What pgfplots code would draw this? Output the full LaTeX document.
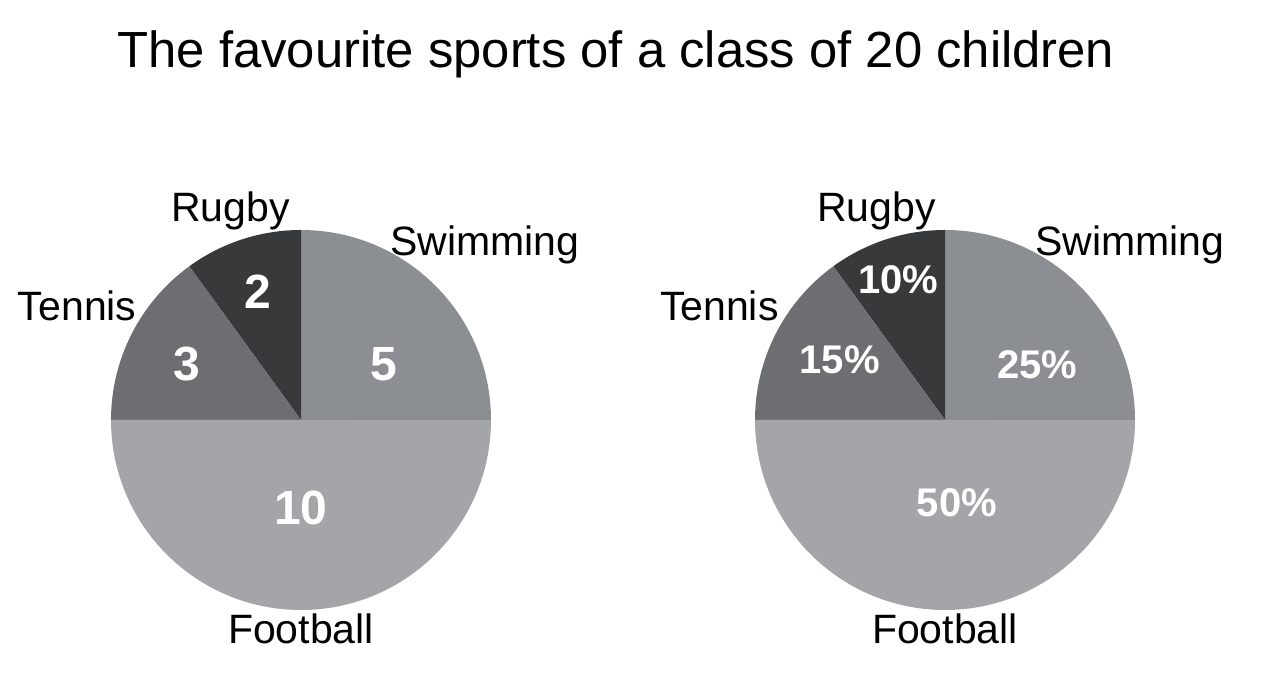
\documentclass[border=0pt]{standalone}
\usepackage{pgfplots}
\pgfplotsset{compat=1.18}
\usepackage{pgfplotstable}
\usepackage{fontspec}
\setmainfont{Liberation Sans}

\definecolor{swimcol}{RGB}{139,142,147}
\definecolor{rugbycol}{RGB}{56,57,59}
\definecolor{tenniscol}{RGB}{108,110,113}
\definecolor{footcol}{RGB}{164,165,169}

% sport, number of children, colour (counter-clockwise from 0 degrees)
\pgfplotstableread{
sport value col
Swimming 5 swimcol
Rugby 2 rugbycol
Tennis 3 tenniscol
Football 10 footcol
}\sportsdata

\newcommand\pieR{95pt}
\newcommand\piewedges{%
  \pgfplotstablegetrowsof{\sportsdata}\let\nrows\pgfplotsretval
  \pgfmathtruncatemacro\lastrow{\nrows-1}%
  \gdef\pietotal{0}%
  \pgfplotsforeachungrouped \i in {0,...,\lastrow}{%
    \pgfplotstablegetelem{\i}{value}\of\sportsdata
    \pgfmathsetmacro\tmpsum{\pietotal+\pgfplotsretval}%
    \global\let\pietotal\tmpsum
  }%
  \gdef\startang{0}%
  \pgfplotsforeachungrouped \i in {0,...,\lastrow}{%
    \pgfplotstablegetelem{\i}{value}\of\sportsdata\let\val\pgfplotsretval
    \pgfplotstablegetelem{\i}{col}\of\sportsdata\let\col\pgfplotsretval
    \pgfmathsetmacro\endang{\startang+\val/\pietotal*360}%
    \edef\tmp{\noexpand\fill[\col] (axis cs:0,0) -- (axis cs:{cos(\startang)},{sin(\startang)})
      arc[start angle=\startang,end angle=\endang,radius=\pieR] -- cycle;}%
    \tmp
    \global\let\startang\endang
  }%
}

\newcommand\lbl{\fontsize{20.5pt}{24pt}\selectfont}
\newcommand\numA{\fontsize{24pt}{28pt}\selectfont\bfseries}
\newcommand\numB{\fontsize{20pt}{24pt}\selectfont\bfseries}

\begin{document}
\begin{tikzpicture}
\path[use as bounding box] (0,0) rectangle (633.5pt,347.5pt);

\node[anchor=base, inner sep=0pt] at (308pt,313.5pt)
  {\fontsize{25.4pt}{30pt}\selectfont The favourite sports of a class of 20 children};

% left: numbers of children
\begin{axis}[at={(150.5pt,137.5pt)}, anchor=center,
  x=95pt, y=95pt, xmin=-1, xmax=1, ymin=-1, ymax=1,
  hide axis, clip=false]
  \piewedges
  \node[anchor=base] at (axis cs:-0.372,1.047) {\lbl Rugby};
  \node[anchor=base] at (axis cs:0.968,0.864) {\lbl Swimming};
  \node[anchor=base] at (axis cs:-1.178,0.524) {\lbl Tennis};
  \node[anchor=base] at (axis cs:0,-1.178) {\lbl Football};
  \node[anchor=base, text=white] at (axis cs:-0.225,0.586) {\numA 2};
  \node[anchor=base, text=white] at (axis cs:-0.602,0.209) {\numA 3};
  \node[anchor=base, text=white] at (axis cs:0.435,0.209) {\numA 5};
  \node[anchor=base, text=white] at (axis cs:0,-0.55) {\numA 10};
\end{axis}

% right: percentages
\begin{axis}[at={(472.5pt,137.5pt)}, anchor=center,
  x=95pt, y=95pt, xmin=-1, xmax=1, ymin=-1, ymax=1,
  hide axis, clip=false]
  \piewedges
  \node[anchor=base] at (axis cs:-0.361,1.047) {\lbl Rugby};
  \node[anchor=base] at (axis cs:0.974,0.864) {\lbl Swimming};
  \node[anchor=base] at (axis cs:-1.188,0.524) {\lbl Tennis};
  \node[anchor=base] at (axis cs:0,-1.178) {\lbl Football};
  \node[anchor=base, text=white] at (axis cs:-0.246,0.665) {\numB 10\%};
  \node[anchor=base, text=white] at (axis cs:-0.555,0.246) {\numB 15\%};
  \node[anchor=base, text=white] at (axis cs:0.487,0.22) {\numB 25\%};
  \node[anchor=base, text=white] at (axis cs:0.063,-0.508) {\numB 50\%};
\end{axis}
\end{tikzpicture}
\end{document}
